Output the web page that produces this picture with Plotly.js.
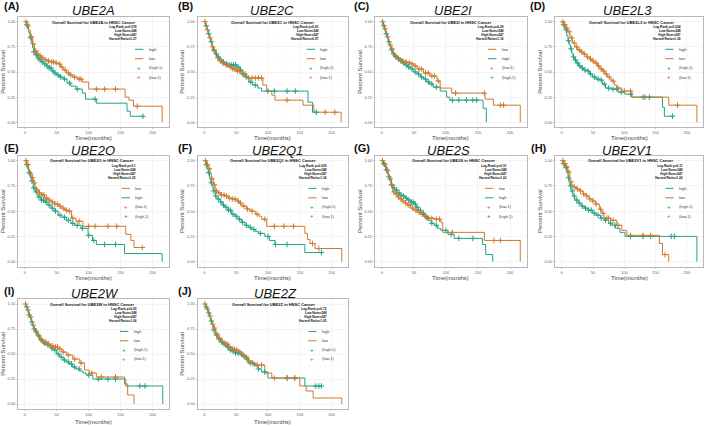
<!DOCTYPE html>
<html><head><meta charset="utf-8">
<script src="https://cdn.plot.ly/plotly-3.0.1.min.js"></script>
<style>html,body{margin:0;padding:0;background:#fff}#chart{width:709px;height:426px}</style>
</head><body><div id="chart"></div>
<script>
// ---------------- DATA ----------------
const genes = ['UBE2A','UBE2C','UBE2I','UBE2L3','UBE2O','UBE2Q1','UBE2S','UBE2V1','UBE2W','UBE2Z'];
const panelLabels = ['(A)','(B)','(C)','(D)','(E)','(F)','(G)','(H)','(I)','(J)'];
const logRankP = ['0.078','0.81','0.29','0.024','0.1','0.025','0.91','0.11','0.65','0.72'];
const hazardRatio = ['1.27','0.97','1.16','1.36','1.25','1.36','1.02','1.24','1.06','1.05'];
const lowNum = 248, highNum = 247;
const legendOrder = ['high','high','low','high','low','high','low','high','high','high']; // first listed group

const A_high_t=[0,2,4,6,8,10,12,14,16,19,22,26,30,34,38,42,46,50,54,60,66,72,80,90,95,112,160,165,185];
const A_high_s=[1,0.97,0.93,0.89,0.84,0.79,0.74,0.70,0.67,0.64,0.62,0.60,0.58,0.56,0.54,0.51,0.49,0.47,0.45,0.43,0.39,0.36,0.33,0.29,0.23,0.19,0.11,0.06,0.06];
const A_high_c=[3,9,14,18,21,24,27,31,35,38,41,44,47,52,56,62,70,82,110,185];
const A_low_t=[0,3,6,9,12,15,18,22,26,30,35,40,47,52,56,60,65,70,75,82,90,100,157,163,170,215];
const A_low_s=[1,0.96,0.91,0.85,0.78,0.71,0.68,0.66,0.64,0.62,0.61,0.60,0.59,0.58,0.55,0.52,0.49,0.47,0.45,0.43,0.40,0.33,0.25,0.22,0.16,0];
const A_low_c=[2,5,10,13,17,20,24,28,33,37,42,45,49,54,58,63,68,72,78,85,88,112,125,142,176];

const B_high_t=[0,2,4,6,8,10,12,14,17,20,24,28,32,38,44,50,56,60,64,70,76,84,90,163,170,176];
const B_high_s=[1,0.96,0.92,0.88,0.84,0.80,0.76,0.72,0.68,0.65,0.62,0.60,0.58,0.57,0.57,0.55,0.52,0.48,0.45,0.40,0.37,0.34,0.31,0.20,0.10,0.10];
const B_high_c=[3,7,11,15,19,22,26,30,35,40,43,46,49,53,57,62,66,73,80,100,110,130,143,176];
const B_low_t=[0,2,4,6,8,10,12,14,17,20,24,28,32,38,44,50,58,66,92,98,106,111,155,172,215];
const B_low_s=[1,0.96,0.92,0.88,0.84,0.80,0.75,0.71,0.67,0.64,0.61,0.59,0.57,0.55,0.53,0.51,0.48,0.44,0.37,0.31,0.27,0.22,0.17,0.10,0];
const B_low_c=[1,5,9,13,16,21,25,29,34,37,41,45,48,52,55,60,64,70,75,80,85,90,130,190,205];

const C_high_t=[0,2,4,6,8,10,12,14,17,20,24,28,32,36,40,45,50,55,60,65,70,75,80,91,101,106,158,163];
const C_high_s=[1,0.96,0.92,0.88,0.84,0.80,0.76,0.72,0.68,0.65,0.63,0.61,0.59,0.57,0.55,0.53,0.50,0.48,0.45,0.43,0.40,0.38,0.35,0.31,0.25,0.22,0.14,0];
const C_high_c=[3,7,11,15,18,22,26,30,34,38,42,47,52,57,62,68,73,78,85,110,120,132,142,148];
const C_low_t=[0,2,4,6,8,10,12,14,17,20,24,28,32,36,40,45,50,55,65,75,86,91,109,161,174,216];
const C_low_s=[1,0.97,0.93,0.89,0.85,0.81,0.77,0.73,0.69,0.66,0.64,0.62,0.61,0.60,0.59,0.58,0.56,0.53,0.49,0.46,0.41,0.34,0.29,0.23,0.17,0];
const C_low_c=[1,5,9,13,16,21,25,29,33,38,43,47,52,58,62,68,72,78,82,88,115,160,185,190];

const D_high_t=[0,2,5,8,10,12,14,16,18,20,23,27,31,35,39,44,49,55,60,65,70,80,90,101,112,161,164,177];
const D_high_s=[1,0.97,0.92,0.86,0.81,0.77,0.73,0.69,0.65,0.62,0.59,0.56,0.54,0.52,0.51,0.48,0.45,0.43,0.42,0.38,0.34,0.33,0.30,0.28,0.25,0.15,0.06,0.06];
const D_high_c=[3,7,11,15,19,22,25,29,33,37,42,46,52,58,63,68,75,82,88,95,110,130,140,177];
const D_low_t=[0,3,6,9,13,17,21,25,30,34,39,44,48,52,57,61,65,69,73,77,80,84,88,96,112,171,216];
const D_low_s=[1,0.97,0.94,0.90,0.84,0.79,0.75,0.72,0.70,0.68,0.65,0.63,0.61,0.59,0.56,0.53,0.51,0.48,0.45,0.43,0.41,0.37,0.34,0.31,0.25,0.17,0];
const D_low_c=[2,5,8,12,16,20,24,28,32,36,41,46,50,55,59,63,67,71,76,82,90,100,110,133,185];

const E_low_t=[0,3,6,8,10,13,16,18,22,26,31,36,41,47,52,57,62,67,73,80,91,158,166,171,184];
const E_low_s=[1,0.96,0.91,0.87,0.83,0.78,0.74,0.71,0.68,0.66,0.63,0.61,0.59,0.57,0.55,0.53,0.51,0.50,0.43,0.40,0.35,0.27,0.21,0.14,0.14];
const E_low_c=[2,5,9,12,15,19,23,27,30,34,38,43,47,51,55,60,65,70,75,85,100,110,130,144,184];
const E_high_t=[0,2,4,6,8,10,13,16,19,21,25,31,36,41,46,52,58,65,72,78,88,99,106,112,156,215];
const E_high_s=[1,0.96,0.92,0.88,0.84,0.80,0.73,0.69,0.66,0.64,0.61,0.59,0.56,0.53,0.50,0.46,0.44,0.41,0.38,0.36,0.33,0.26,0.21,0.17,0.08,0];
const E_high_c=[3,7,11,14,18,22,26,29,33,38,43,48,55,62,68,75,82,90,100,108,125,142];

const F_low_t=[0,3,6,9,11,14,17,20,22,26,32,38,43,51,55,59,66,72,80,86,90,98,158,162,166,174,216];
const F_low_s=[1,0.96,0.92,0.87,0.82,0.76,0.70,0.69,0.68,0.66,0.65,0.63,0.62,0.60,0.58,0.55,0.52,0.50,0.47,0.45,0.42,0.35,0.28,0.22,0.18,0.13,0];
const F_low_c=[2,5,8,12,16,19,23,27,31,35,39,44,48,53,57,62,68,75,83,95,110,125,140,170,180];
const F_high_t=[0,2,4,6,8,10,12,14,17,20,25,29,32,37,43,48,53,58,64,69,74,80,85,95,102,111,158,184];
const F_high_s=[1,0.96,0.92,0.88,0.83,0.78,0.74,0.70,0.65,0.62,0.59,0.56,0.54,0.51,0.47,0.45,0.42,0.39,0.36,0.34,0.32,0.30,0.28,0.25,0.21,0.17,0.09,0.09];
const F_high_c=[3,7,11,15,18,22,26,30,34,38,41,45,50,55,60,66,72,78,88,100,112,130,184];

const G_high_t=[0,2,4,6,8,10,12,14,17,20,24,28,32,36,40,45,50,53,57,61,66,71,77,82,87,92,103,113,157,162,173];
const G_high_s=[1,0.97,0.94,0.91,0.87,0.84,0.80,0.76,0.73,0.71,0.68,0.66,0.65,0.63,0.61,0.59,0.57,0.54,0.51,0.48,0.44,0.41,0.38,0.36,0.33,0.31,0.27,0.23,0.17,0.07,0];
const G_high_c=[3,7,11,15,19,23,27,30,34,38,42,46,49,52,55,60,65,70,78,85,100,108,120,142];
const G_low_t=[0,2,4,6,8,10,12,15,17,20,24,28,32,36,40,45,50,55,60,66,71,82,92,95,160,216];
const G_low_s=[1,0.98,0.96,0.94,0.90,0.86,0.82,0.76,0.69,0.67,0.64,0.62,0.60,0.58,0.56,0.53,0.51,0.49,0.47,0.45,0.43,0.42,0.39,0.29,0.21,0];
const G_low_c=[1,5,9,13,16,19,22,26,30,33,37,41,44,48,53,58,63,68,73,78,85,90,110,175,185];

const H_high_t=[0,2,5,8,10,12,13,15,18,21,26,31,36,42,49,55,62,68,75,80,86,93,101,216];
const H_high_s=[1,0.97,0.93,0.88,0.83,0.79,0.75,0.70,0.65,0.61,0.58,0.55,0.53,0.51,0.48,0.46,0.43,0.41,0.38,0.36,0.33,0.29,0.25,0];
const H_high_c=[3,7,11,14,17,20,24,28,33,38,43,47,52,58,63,70,78,85,110,130,142,175,180];
const H_low_t=[0,3,6,9,13,16,18,23,28,34,39,44,49,54,60,64,67.5,78,88,96,104,156,161,171];
const H_low_s=[1,0.97,0.94,0.89,0.79,0.76,0.74,0.72,0.70,0.67,0.65,0.62,0.60,0.57,0.52,0.48,0.43,0.41,0.36,0.31,0.26,0.18,0.07,0];
const H_low_c=[2,5,8,11,15,20,25,30,35,40,45,50,55,62,66,72,75,82,90,110,130,142,165];

const I_high_t=[0,2,4,6,8,10,12,14,16,19,23,28,34,40,44,50,54.5,60,65,70,75,80,86,91,96,106.5,158,216];
const I_high_s=[1,0.97,0.93,0.89,0.86,0.82,0.78,0.75,0.72,0.68,0.64,0.61,0.59,0.56,0.54,0.50,0.47,0.44,0.42,0.40,0.37,0.35,0.33,0.31,0.29,0.25,0.18,0];
const I_high_c=[3,7,11,15,18,22,26,31,36,42,47,52,57,62,68,73,78,85,100,115,130,142,180,188];
const I_low_t=[0,2,4,6,8,10,12,14,16,19,23,28,34,40,46,52,58,65,75,86,93.5,101,112,156,161,171];
const I_low_s=[1,0.97,0.94,0.90,0.87,0.83,0.79,0.76,0.73,0.69,0.65,0.62,0.60,0.58,0.57,0.55,0.52,0.49,0.45,0.41,0.34,0.31,0.27,0.20,0.09,0];
const I_low_c=[1,5,9,13,17,21,25,29,33,37,41,44,48,51,55,60,68,78,88,105,120,142];

const J_high_t=[0,2,4,6,8,10,12,14,17,21,25,29,32,35,38,43,48,54,59,64,69,75,80,85,90,100,158,184];
const J_high_s=[1,0.97,0.94,0.91,0.87,0.83,0.79,0.74,0.69,0.65,0.62,0.60,0.59,0.57,0.54,0.53,0.51,0.50,0.48,0.45,0.41,0.40,0.38,0.35,0.32,0.26,0.18,0.18];
const J_high_c=[3,7,11,15,19,23,27,31,34,37,41,45,49,53,58,62,67,72,78,85,95,130,142,175,180,184];
const J_low_t=[0,2,4,6,8,10,12,14,17,21,25,29,32,38,43,48,54,59,64,69,75,80,95,106,150,160,171,216];
const J_low_s=[1,0.98,0.95,0.92,0.88,0.84,0.80,0.76,0.70,0.66,0.63,0.61,0.60,0.57,0.55,0.54,0.52,0.49,0.47,0.43,0.41,0.39,0.31,0.26,0.18,0.13,0.06,0];
const J_low_c=[1,5,9,13,16,20,24,28,33,36,40,44,47,51,56,61,66,70,76,83,90,110,130,142];

const highT=[A_high_t,B_high_t,C_high_t,D_high_t,E_high_t,F_high_t,G_high_t,H_high_t,I_high_t,J_high_t];
const highS=[A_high_s,B_high_s,C_high_s,D_high_s,E_high_s,F_high_s,G_high_s,H_high_s,I_high_s,J_high_s];
const highC=[A_high_c,B_high_c,C_high_c,D_high_c,E_high_c,F_high_c,G_high_c,H_high_c,I_high_c,J_high_c];
const lowT=[A_low_t,B_low_t,C_low_t,D_low_t,E_low_t,F_low_t,G_low_t,H_low_t,I_low_t,J_low_t];
const lowS=[A_low_s,B_low_s,C_low_s,D_low_s,E_low_s,F_low_s,G_low_s,H_low_s,I_low_s,J_low_s];
const lowC=[A_low_c,B_low_c,C_low_c,D_low_c,E_low_c,F_low_c,G_low_c,H_low_c,I_low_c,J_low_c];
const xTicks=[0,50,100,150,200];
const yTicks=[0,0.25,0.5,0.75,1];
const yTickText=['0.00','0.25','0.50','0.75','1.00'];
const xTitle='Time(months)', yTitle='Percent Survival';

// ---------------- LAYOUT / STYLE ----------------
const W=709,H=426;
const FONT='Liberation Sans, Arial, sans-serif';
const TEAL='#22A385', ORANGE='#CF7A2E';
const colBox=[[18,169],[197.5,348],[375,526.5],[555,703]];
const rowBox=[[16.7,127.3],[155.6,266.7],[299,409]];
const xTitleY=[137.5,277.5,421.5];
const geneCX=[93,272,453,627,93,277,448,627,95,275];
const geneCY=[10.5,10.5,10.5,10.5,150,150,150,150,293,293];
const labX=[2,176,352,528,2,176,352,529,2,176];
const labY=[6,6,6,6,148,148,148,148,291,291];
// annotation anchor positions in page pixels
const statTitlePx=[93.3,273.3,450.7,631,92.3,273,454,631,91.7,273.3];
const statRightPx=[138.3,320,505,682,136.7,328.3,508.3,683.7,138.3,328.3];
const legLinePx=[135,306.7,488,665.3,121.7,308.3,485,665.3,120,308.3];
const statTitleRow=22, statFirstRow=26, legRows=[49.3,58.7,67.7,77]; // px within row 1 (relative to top 16.7)

function stepAt(t,s,x){let v=s[0];for(let i=0;i<t.length;i++){if(t[i]<=x)v=s[i];else break;}return v;}

const traces=[],annotations=[],shapes=[];
const layout={width:W,height:H,margin:{l:0,r:0,t:0,b:0},paper_bgcolor:'#fff',plot_bgcolor:'#fff',
  showlegend:false,font:{family:FONT,color:'#333'}};

for(let i=0;i<10;i++){
  const suf=i===0?'':String(i+1);
  const c=colBox[i%4], ri=Math.floor(i/4), r=rowBox[ri];
  const cw=c[1]-c[0];
  const fx=px=>(px-c[0])/cw;
  const fy=py=>1-(py-16.7)/110.6;
  const ax={domain:[c[0]/W,c[1]/W],anchor:'y'+suf,range:[-10.75,225.75],tickvals:xTicks,
    ticks:'outside',ticklen:1,tickwidth:0.5,tickcolor:'#999',tickfont:{size:4,color:'#666',family:FONT},
    showline:true,mirror:true,linecolor:'#b8b8b8',linewidth:1,showgrid:true,gridcolor:'#ececec',gridwidth:0.6,
    zeroline:false,minor:{tickvals:[25,75,125,175,225],showgrid:true,gridcolor:'#f4f4f4',gridwidth:0.4}};
  const ay={domain:[1-r[1]/H,1-r[0]/H],anchor:'x'+suf,range:[-0.05,1.05],tickvals:yTicks,ticktext:yTickText,
    ticks:'outside',ticklen:1,tickwidth:0.5,tickcolor:'#999',tickfont:{size:4,color:'#666',family:FONT},
    showline:true,mirror:true,linecolor:'#b8b8b8',linewidth:1,showgrid:true,gridcolor:'#ececec',gridwidth:0.6,
    zeroline:false,minor:{tickvals:[0.125,0.375,0.625,0.875],showgrid:true,gridcolor:'#f4f4f4',gridwidth:0.4},
    title:{text:yTitle,font:{size:6,color:'#444',family:FONT},standoff:1}};
  layout['xaxis'+suf]=ax; layout['yaxis'+suf]=ay;
  const xa='x'+suf, ya='y'+suf;
  const groups=[{t:highT[i],s:highS[i],c:highC[i],col:TEAL,name:'high'},{t:lowT[i],s:lowS[i],c:lowC[i],col:ORANGE,name:'low'}];
  groups.forEach(g=>{
    traces.push({type:'scatter',mode:'lines',x:g.t,y:g.s,xaxis:xa,yaxis:ya,name:g.name,
      line:{shape:'hv',color:g.col,width:1},hoverinfo:'skip'});
  });
  groups.forEach(g=>{
    traces.push({type:'scatter',mode:'markers',x:g.c,y:g.c.map(v=>stepAt(g.t,g.s,v)),xaxis:xa,yaxis:ya,
      name:'('+g.name+',1)',marker:{symbol:'cross-thin',size:4,color:g.col,line:{width:1,color:g.col}},hoverinfo:'skip'});
  });
  const xd=xa+' domain', yd=ya+' domain';
  annotations.push({xref:xd,yref:'paper',x:0.5,y:1-xTitleY[ri]/H,text:xTitle,showarrow:false,xanchor:'center',yanchor:'middle',
    font:{size:6,color:'#444',family:FONT}});
  annotations.push({xref:'paper',yref:'paper',x:geneCX[i]/W,y:1-geneCY[i]/H,text:'<i>'+genes[i]+'</i>',showarrow:false,
    xanchor:'center',yanchor:'middle',font:{size:13,color:'#111',family:FONT}});
  annotations.push({xref:'paper',yref:'paper',x:labX[i]/W,y:1-labY[i]/H,text:'<b>'+panelLabels[i]+'</b>',showarrow:false,
    xanchor:'left',yanchor:'middle',font:{size:11,color:'#111',family:FONT}});
  annotations.push({xref:xd,yref:yd,x:fx(statTitlePx[i]),y:fy(statTitleRow),text:'<b>Overall Survival for '+genes[i]+' in HNSC Cancer</b>',
    showarrow:false,xanchor:'center',yanchor:'middle',font:{size:4,color:'#111',family:FONT}});
  const lines=['Log-Rank p='+logRankP[i],'Low Num='+lowNum,'High Num='+highNum,'Hazard Ratio='+hazardRatio[i]];
  annotations.push({xref:xd,yref:yd,x:fx(statRightPx[i]),y:fy(statFirstRow-2.1),text:lines.map(s=>'<b>'+s+'</b>').join('<br>'),
    showarrow:false,xanchor:'right',yanchor:'top',align:'right',borderpad:0,font:{size:3.2,color:'#111',family:FONT}});
  const first=legendOrder[i], second=first==='high'?'low':'high';
  const colOf=n=>n==='high'?TEAL:ORANGE;
  const items=[[first,'line'],[second,'line'],[first,'mark'],[second,'mark']];
  const lx0=fx(legLinePx[i]), lx1=fx(legLinePx[i]+8.3), lxt=fx(legLinePx[i]+11.7);
  items.forEach((it,k)=>{
    const yy=fy(legRows[k]);
    if(it[1]==='line'){
      shapes.push({type:'line',xref:xd,yref:yd,x0:lx0,x1:lx1,y0:yy,y1:yy,line:{color:colOf(it[0]),width:1}});
    }else{
      annotations.push({xref:xd,yref:yd,x:(lx0+lx1)/2,y:yy,text:'<b>+</b>',showarrow:false,xanchor:'center',yanchor:'middle',
        font:{size:6,color:colOf(it[0]),family:FONT}});
    }
    annotations.push({xref:xd,yref:yd,x:lxt,y:yy,text:it[1]==='line'?it[0]:'('+it[0]+',1)',showarrow:false,
      xanchor:'left',yanchor:'middle',font:{size:4,color:'#444',family:FONT}});
  });
}
layout.annotations=annotations; layout.shapes=shapes;
Plotly.newPlot('chart',traces,layout,{staticPlot:true,displayModeBar:false});
</script></body></html>
